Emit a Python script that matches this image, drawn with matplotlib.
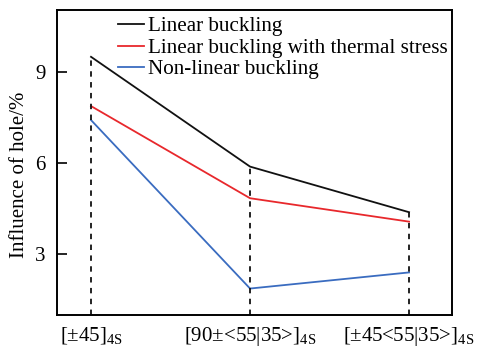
import matplotlib.pyplot as plt

plt.rcParams['font.family'] = ['Liberation Serif', 'DejaVu Serif']
plt.rcParams['mathtext.fontset'] = 'custom'
plt.rcParams['mathtext.rm'] = 'Liberation Serif'
plt.rcParams['mathtext.it'] = 'Liberation Serif:italic'

# ----------------- Data -----------------
layups = [r'[$\pm$45]$_{\mathrm{4S}}$',
          r'[90$\pm$<55|35>]$_{\mathrm{4S}}$',
          r'[$\pm$45<55|35>]$_{\mathrm{4S}}$']
linear = [9.49, 5.88, 4.38]
linear_thermal = [7.87, 4.84, 4.07]
non_linear = [7.41, 1.87, 2.40]


# ----------------- Plot -----------------
fig = plt.figure(figsize=(4.79, 3.47), dpi=100)
ax = fig.add_axes([57 / 479, 1 - 315 / 347, 395 / 479, 305 / 347])

x = list(range(len(layups)))
ax.plot(x, linear, color='#111111', lw=1.3, label='Linear buckling')
ax.plot(x, linear_thermal, color='#e8282c', lw=1.3,
        label='Linear buckling with thermal stress')
ax.plot(x, non_linear, color='#3a6cc0', lw=1.3, label='Non-linear buckling')

# dashed guide lines from the bottom up to the top curve
ax.vlines(x, 1, linear, colors='#111111', linestyles=(0, (3, 3)), lw=1.3)

ax.set_xlim(-0.214, 2.27)
ax.set_ylim(1, 11.03)
ax.set_yticks([3, 6, 9])
ax.set_xticks(x)
ax.set_xticklabels(layups, fontsize=15)
ax.tick_params(axis='y', direction='in', length=7, width=1.2, labelsize=15, pad=8)
ax.tick_params(axis='x', length=0, pad=7)
ax.set_ylabel('Influence of hole/%', fontsize=15)
ax.yaxis.set_label_coords(-0.072, 0.46)
for s in ax.spines.values():
    s.set_linewidth(1.4)

ax.legend(loc='upper left', bbox_to_anchor=(0.154, 0.978), frameon=False,
          fontsize=15.2, handlelength=1.25, handletextpad=0.2,
          labelspacing=0.08, borderaxespad=0, borderpad=0)

fig.savefig('out.png', dpi=100)
